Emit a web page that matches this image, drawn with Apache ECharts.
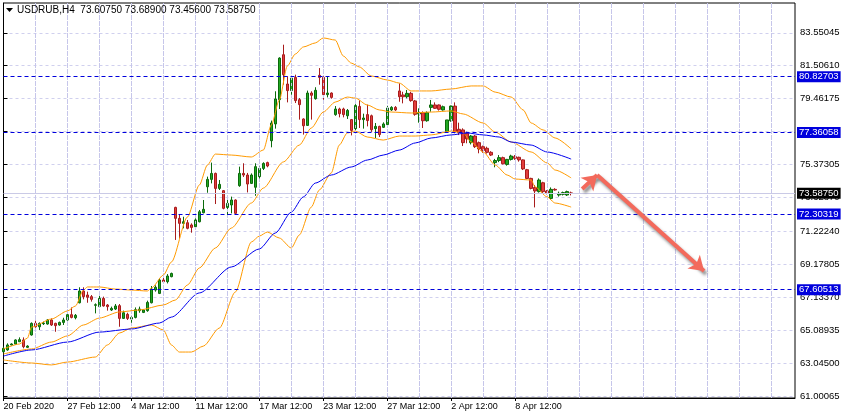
<!DOCTYPE html>
<html>
<head>
<meta charset="utf-8">
<script src="https://cdn.jsdelivr.net/npm/echarts@6/dist/echarts.min.js"></script>
<style>html,body{margin:0;padding:0;background:#fff}#c{width:846px;height:419px}</style>
</head>
<body>
<div id="c"></div>
<script>
const symbolName = 'USDRUB';
const timeframe = 'H4';
const timeLabels = ['20 Feb 2020', '27 Feb 12:00', '4 Mar 12:00', '11 Mar 12:00', '17 Mar 12:00', '23 Mar 12:00', '27 Mar 12:00', '2 Apr 12:00', '8 Apr 12:00'];
const barCount = 199; // bar slots incl. empty chart shift on the right
const gridBarStep = 8; // vertical grid every 8 bars
const yTicks = [61.00065, 63.04500, 65.08935, 67.13370, 69.17805, 71.22240, 73.32870, 75.37305, 77.41740, 79.46175, 81.50610, 83.55045];
const levels = [80.82703, 77.36058, 72.30319, 67.60513];

// [open, high, low, close]
const ohlc = [
[63.75,64.06,63.69,63.96],[63.86,64.27,63.81,64.17],[64.17,64.27,64.15,64.23],[64.23,64.52,64.21,64.48],
[64.37,64.64,64.35,64.50],[64.48,64.64,63.96,64.06],[64.02,64.15,64.00,64.10],[64.79,65.57,64.75,65.51],
[65.51,65.68,65.24,65.30],[65.30,65.57,65.10,65.51],[65.49,65.62,65.41,65.53],[65.47,65.78,65.43,65.72],
[65.72,65.82,65.35,65.41],[65.51,65.55,64.99,65.37],[65.41,65.62,65.37,65.57],[65.57,65.86,65.41,65.72],
[65.72,66.13,65.68,66.05],[66.05,66.50,65.82,65.88],[65.86,66.09,65.76,66.01],[66.79,67.75,66.75,67.52],
[67.52,67.75,67.00,67.17],[67.27,67.48,66.79,67.13],[67.17,67.27,66.86,67.00],[66.63,66.75,66.13,66.67],
[66.55,67.37,66.50,67.06],[67.06,67.17,66.55,66.59],[66.65,66.71,66.30,66.55],[66.34,66.55,66.28,66.44],
[66.40,66.71,66.34,66.59],[66.61,66.71,65.30,65.82],[65.82,66.30,65.78,66.17],[66.07,66.17,65.72,65.82],
[65.78,65.93,65.55,65.88],[65.88,66.50,65.82,66.36],[66.30,66.55,66.17,66.40],[66.19,66.40,66.15,66.34],
[66.30,66.92,66.23,66.81],[66.79,67.83,66.75,67.64],[67.58,67.87,67.48,67.75],[67.37,68.30,67.33,68.20],
[68.20,68.41,68.03,68.10],[68.10,68.57,67.99,68.45],[68.41,68.66,68.37,68.61],[72.71,72.75,70.69,72.03],
[72.03,72.24,70.79,71.72],[71.72,72.13,71.41,71.82],[71.76,71.93,71.35,71.41],[71.62,71.72,71.14,71.47],
[71.51,72.03,71.47,71.93],[71.82,72.55,71.78,72.44],[72.38,73.17,72.34,72.59],[73.99,74.62,73.62,74.45],
[74.45,75.49,74.20,74.82],[74.82,74.87,72.92,73.89],[73.89,74.41,73.79,74.14],[73.75,73.79,72.59,72.65],
[72.71,73.17,72.09,72.96],[72.86,73.38,72.34,73.17],[73.17,73.21,72.24,72.34],[74.06,75.24,73.99,74.82],
[74.82,75.45,74.60,74.72],[74.72,74.85,73.64,74.16],[74.20,74.82,74.16,74.72],[73.96,75.45,73.43,75.24],
[74.62,75.24,74.51,75.13],[75.13,75.51,75.03,75.44],[75.49,75.55,75.20,75.28],[76.85,78.10,76.44,77.95],
[77.89,79.92,77.60,79.44],[79.40,82.03,78.82,81.98],[82.19,82.81,80.33,80.95],[80.37,80.85,79.23,79.96],
[79.96,80.85,79.71,80.74],[80.78,80.95,79.19,79.34],[79.40,79.50,78.16,79.09],[78.20,78.24,77.23,77.78],
[77.80,79.96,77.78,79.81],[79.81,79.92,78.16,79.67],[79.46,80.17,79.40,79.98],[80.91,81.36,80.33,80.78],
[80.78,80.85,79.40,79.71],[79.71,80.85,79.54,79.81],[79.81,79.85,79.46,79.54],[78.47,79.00,78.40,78.82],
[78.82,78.90,78.30,78.53],[78.82,78.90,78.30,78.47],[78.40,78.82,78.20,78.73],[78.16,78.20,77.18,77.49],
[77.60,79.12,77.51,79.03],[78.98,79.36,77.64,78.16],[78.16,78.53,77.60,78.26],[78.47,79.09,77.74,78.10],
[78.40,78.47,77.40,77.53],[77.60,77.95,77.02,77.74],[77.74,77.78,77.08,77.23],[77.68,77.99,77.64,77.89],
[77.85,79.00,77.78,78.88],[78.76,78.99,78.70,78.92],[78.92,79.00,78.70,78.76],[79.94,80.41,79.27,79.58],
[79.69,79.89,79.17,79.58],[79.58,80.00,79.48,79.79],[79.79,79.89,79.27,79.34],[79.32,79.38,78.40,78.49],
[78.51,78.86,77.97,78.59],[78.59,78.67,77.64,78.09],[78.09,78.67,78.03,78.59],[78.92,79.38,78.65,79.07],
[79.07,79.23,78.82,78.86],[79.07,79.10,78.72,78.80],[78.76,79.03,78.72,78.96],[77.41,78.14,77.41,78.14],
[78.09,79.03,78.03,79.00],[79.00,79.23,77.31,77.41],[77.56,77.97,77.20,77.35],[77.52,77.62,76.52,76.73],
[77.31,77.41,76.69,76.96],[76.73,77.20,76.62,77.14],[77.14,77.20,76.40,76.48],[76.73,76.80,76.07,76.34],
[76.48,76.55,76.10,76.24],[76.38,76.48,76.05,76.13],[76.13,76.20,75.90,75.96],[75.49,75.72,75.20,75.62],
[75.62,75.96,75.52,75.80],[75.80,75.86,75.38,75.42],[75.38,75.72,75.30,75.69],[75.69,75.98,75.62,75.90],
[75.86,75.96,75.66,75.76],[75.82,75.86,75.55,75.66],[75.66,75.69,75.03,75.10],[75.05,75.10,74.47,74.51],
[74.51,74.55,73.83,73.89],[73.95,74.10,72.71,73.73],[73.69,74.51,73.63,74.41],[74.24,74.30,73.58,73.69],
[73.73,73.79,73.52,73.58],[73.27,73.95,73.20,73.83],[73.83,73.90,73.75,73.79],[73.48,73.69,73.38,73.58],
[73.52,73.69,73.45,73.63],[73.48,73.75,73.42,73.69],[73.6075,73.689,73.456,73.5875]
];

// indicator lines, [bar index, value]
const upperBand = [[0,63.92],[4,64.23],[6,64.60],[7,65.28],[12,65.78],[16,66.28],[18,66.59],[20,67.58],[21,67.77],[24,67.77],[28,67.64],[32,67.58],[36,67.52],[37,67.70],[40,68.51],[42,69.32],[46,72.11],[49,74.10],[51,75.34],[53,76.02],[57,75.96],[62,75.84],[65,76.27],[67,77.83],[69,79.38],[71,81.49],[73,82.23],[75,82.67],[78,82.92],[80,83.23],[83,83.10],[85,82.11],[87,81.67],[89,81.43],[92,80.87],[96,80.62],[99,80.43],[102,79.94],[107,79.94],[112,80.06],[117,80.25],[120,80.25],[123,79.87],[127,79.56],[130,78.76],[132,77.95],[135,77.52],[138,77.02],[142,76.34]];
const middleBand = [[0,63.61],[7,63.92],[12,64.35],[16,64.73],[20,65.41],[24,65.84],[29,66.22],[34,66.34],[40,66.65],[43,66.96],[46,67.89],[49,68.95],[53,70.19],[57,71.43],[62,72.98],[65,73.91],[70,75.53],[74,76.58],[77,77.64],[80,78.63],[83,79.25],[86,79.56],[88,79.50],[91,79.07],[94,78.76],[97,78.63],[102,78.57],[107,78.63],[112,78.70],[115,78.51],[120,77.95],[123,77.39],[127,76.77],[132,76.15],[136,75.47],[138,75.03],[142,74.54]];
const lowerBand = [[0,63.24],[7,63.05],[12,62.93],[16,63.11],[23,63.42],[26,64.17],[29,64.91],[32,65.22],[37,65.41],[40,65.10],[42,64.17],[44,63.73],[47,63.73],[50,64.10],[54,65.22],[58,67.46],[62,70.56],[64,70.93],[66,71.18],[69,70.81],[72,70.19],[74,71.00],[77,72.73],[79,73.79],[82,74.85],[84,76.58],[86,77.33],[88,77.45],[91,77.08],[95,76.89],[99,77.14],[103,77.14],[107,77.21],[112,77.45],[115,77.33],[117,76.77],[120,76.15],[123,75.34],[126,74.72],[128,74.47],[132,74.41],[133,73.98],[136,73.36],[138,72.98],[142,72.73]];
const blueMA = [[0,63.48],[7,63.86],[16,64.35],[24,64.97],[32,65.16],[39,65.53],[42,65.90],[49,67.40],[57,69.01],[64,70.13],[68,71.12],[72,72.42],[75,73.36],[78,74.22],[82,74.72],[87,75.22],[91,75.65],[95,75.96],[99,76.27],[103,76.71],[107,77.02],[112,77.21],[116,77.33],[120,77.21],[124,77.08],[127,76.77],[132,76.58],[136,76.15],[142,75.71]];
const arrowPath = [[144.75,73.85],[148.5,74.72],[175.25,68.76]];

const FONT = '"Liberation Sans", Arial, sans-serif';
const GRID_LINE = {color: '#d0d0ee', type: [3, 3], width: 1};
const VGRID_LINE = {color: '#c6c6ea', type: [3, 3], width: 1, opacity: 1};
const categories = Array.from({length: barCount}, (_, i) => String(i));
const last = ohlc[ohlc.length - 1];
const titleText = symbolName + ',' + timeframe + '  ' + last.map(v => v.toFixed(5)).join(' ');
const isLabelIdx = i => i % 16 === 0 && i / 16 < timeLabels.length;
const gridCols = categories.map((_, i) => i).filter(i => i % gridBarStep === 0 && i > 0);

const lineSeries = (data, color) => ({
  type: 'line', xAxisIndex: 1, yAxisIndex: 0, data: data,
  showSymbol: false, symbol: 'none', smooth: 0.25, smoothMonotone: 'x',
  lineStyle: {color: color, width: 1}, z: 3, silent: true
});

const boxLabel = (bg, value) => ({
  show: true, position: 'end', distance: 2,
  formatter: () => value.toFixed(5),
  color: '#fff', backgroundColor: bg, fontSize: 9.5, fontFamily: FONT,
  padding: [1, 2, 0, 2], lineHeight: 10
});

const option = {
  animation: false,
  backgroundColor: '#fff',
  textStyle: {fontFamily: FONT},
  title: {
    text: titleText, left: 17, top: 5, padding: 0,
    textStyle: {fontSize: 10, fontWeight: 'normal', color: '#000', fontFamily: FONT}
  },
  graphic: [{type: 'polygon', shape: {points: [[6, 8], [13, 8], [9.5, 12]]}, style: {fill: '#000'}, z: 10}],
  grid: {left: 3.5, right: 51, top: 3, bottom: 21, show: true, borderColor: '#000', borderWidth: 1, backgroundColor: '#fff'},
  xAxis: [
    {
      type: 'category', data: categories, boundaryGap: false,
      axisLine: {lineStyle: {color: '#000', width: 1}},
      axisTick: {show: true, length: 3, interval: i => isLabelIdx(i), lineStyle: {color: '#000'}},
      axisLabel: {
        interval: i => isLabelIdx(i), formatter: (v, i) => isLabelIdx(i) ? timeLabels[i / 16] : '',
        align: 'left', fontSize: 9, color: '#000', margin: 4, fontFamily: FONT
      },
      splitLine: {show: true, interval: gridBarStep - 1, lineStyle: VGRID_LINE}
    },
    {
      type: 'value', min: 0, max: barCount - 1, show: false
    }
  ],
  yAxis: {
    type: 'value', position: 'right', min: 60.877, max: 85.40,
    axisLine: {show: true, lineStyle: {color: '#000', width: 1}},
    axisTick: {show: true, length: 4, customValues: yTicks, lineStyle: {color: '#000'}},
    axisLabel: {customValues: yTicks, formatter: v => Number(v).toFixed(5), fontSize: 9.5, color: '#000', margin: 5, fontFamily: FONT},
    splitLine: {show: true, lineStyle: GRID_LINE}
  },
  series: [
    {
      type: 'line', xAxisIndex: 1, yAxisIndex: 0, data: [[0, 61], [1, 61]], silent: true, z: 1,
      symbol: 'none', showSymbol: false, lineStyle: {opacity: 0},
      markLine: {
        silent: true, symbol: ['none', 'none'], animation: false, label: {show: false},
        lineStyle: VGRID_LINE,
        data: gridCols.map(i => ({xAxis: i, lineStyle: VGRID_LINE}))
      }
    },
    {
      type: 'candlestick', xAxisIndex: 0, yAxisIndex: 0,
      data: ohlc.map(d => [d[0], d[3], d[2], d[1]]),
      barWidth: 3,
      itemStyle: {color: '#22a822', color0: '#e23d3d', borderColor: '#0b6a0b', borderColor0: '#a81c1c', borderWidth: 1},
      z: 2,
      markLine: {
        silent: true, symbol: ['none', 'none'], animation: false, precision: 5,
        data: levels.map(v => ({yAxis: v, lineStyle: {color: '#0000dd', type: [4, 3], width: 1}, label: boxLabel('#0000dd', v)}))
          .concat([{yAxis: last[3], lineStyle: {color: '#cacae6', type: 'solid', width: 1}, label: boxLabel('#000', last[3])}])
      }
    },
    lineSeries(upperBand, '#ff9a00'),
    lineSeries(middleBand, '#ff9a00'),
    lineSeries(lowerBand, '#ff9a00'),
    lineSeries(blueMA, '#0000ee'),
    {
      type: 'lines', coordinateSystem: 'cartesian2d', xAxisIndex: 1, yAxisIndex: 0,
      data: [{coords: [arrowPath[0], arrowPath[1]]}, {coords: [arrowPath[1], arrowPath[2]]}],
      symbol: ['none', 'arrow'], symbolSize: 14, silent: true, z: 6,
      lineStyle: {color: '#f36a5c', width: 4, opacity: 1, curveness: 0,
        shadowColor: 'rgba(70,70,70,0.6)', shadowBlur: 3, shadowOffsetX: 2, shadowOffsetY: 3}
    }
  ]
};

const chart = echarts.init(document.getElementById('c'), null, {renderer: 'canvas'});
chart.setOption(option);
</script>
</body>
</html>
